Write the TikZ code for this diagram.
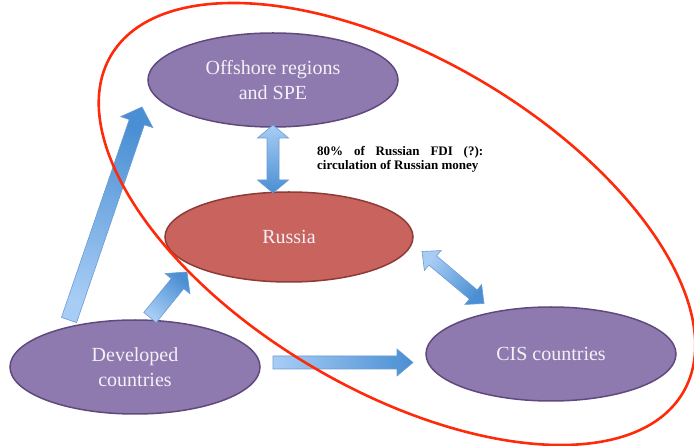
\documentclass[tikz,border=0pt]{standalone}
\usepackage{fontspec}
\setmainfont{Liberation Serif}
\usetikzlibrary{calc,shapes.geometric}
\definecolor{purp}{HTML}{8E7AAE}
\definecolor{purpdk}{HTML}{5F4A7D}
\definecolor{rusfill}{HTML}{C9635D}
\definecolor{rusdk}{HTML}{8E3B37}
\definecolor{arrlight}{HTML}{A8CDF5}
\definecolor{arrdark}{HTML}{4A8FD3}
\definecolor{arredge}{HTML}{6A9BD2}
\definecolor{ringred}{HTML}{FF2A0A}
\definecolor{nodetext}{HTML}{F4F0F8}
\tikzset{
 region/.style={ellipse, draw=purpdk, line width=1.5pt, fill=purp, minimum width=250pt, minimum height=94pt, text=nodetext, align=center, font=\fontsize{20}{25}\selectfont, inner sep=0pt},
 hub/.style={region, fill=rusfill, draw=rusdk, minimum width=248pt, minimum height=90pt},
 blockarrow/.style={draw=arredge, line width=0.6pt, top color=arrdark, bottom color=arrlight},
 ring/.style={draw=ringred, line width=2.6pt},
 note/.style={anchor=base west, inner sep=0pt, font=\fontsize{13}{14}\selectfont\bfseries}
}
\newcommand\singlearrow[6]{%
 \coordinate (tmpH) at ($(#2)!#5!(#1)$);
 \draw[blockarrow, shading angle=#6] ($(#1)!#3!90:(#2)$) -- ($(tmpH)!#3!-90:(#1)$) -- ($(tmpH)!#4!-90:(#1)$) -- (#2) -- ($(tmpH)!#4!90:(#1)$) -- ($(tmpH)!#3!90:(#1)$) -- ($(#1)!#3!-90:(#2)$) -- cycle;
}
\newcommand\doublearrow[6]{%
 \coordinate (tmpP) at ($(#1)!#5!(#2)$);
 \coordinate (tmpQ) at ($(#2)!#5!(#1)$);
 \draw[blockarrow, shading angle=#6] (#1) -- ($(tmpP)!#4!90:(#2)$) -- ($(tmpP)!#3!90:(#2)$) -- ($(tmpQ)!#3!-90:(#1)$) -- ($(tmpQ)!#4!-90:(#1)$) -- (#2) -- ($(tmpQ)!#4!90:(#1)$) -- ($(tmpQ)!#3!90:(#1)$) -- ($(tmpP)!#3!-90:(#2)$) -- ($(tmpP)!#4!-90:(#2)$) -- cycle;
}
\begin{document}
\begin{tikzpicture}[x=1pt, y=-1pt]
\useasboundingbox (0,0) rectangle (694,446);
\node[region] (off) at (273,80) {Offshore regions\\and SPE};
\node[hub] (rus) at (289,237) {Russia};
\node[region] (dev) at (135,367) {Developed\\countries};
\node[region] (cis) at (551,354) {CIS countries};
\node[note] (fdi) at (317,156) {\parbox[t]{166pt}{\baselineskip=14pt\makebox[166pt][s]{80\% of Russian FDI (?):}\\circulation of Russian money}};
% connector end points
\coordinate (devA) at (69,320);
\coordinate (offA) at (142,107);
\coordinate (devB) at (150,317.5);
\coordinate (rusB) at (187,272);
\coordinate (devC) at (273,362.5);
\coordinate (cisC) at (413,362.5);
\coordinate (offD) at (273,125);
\coordinate (rusD) at (273,193);
\coordinate (rusE) at (422,251.5);
\coordinate (cisE) at (484,303.5);
\singlearrow{devA}{offA}{8pt}{17pt}{16pt}{-19.6}
\singlearrow{devB}{rusB}{8pt}{16pt}{15pt}{-39.6}
\singlearrow{devC}{cisC}{6.5pt}{13.5pt}{16pt}{-90}
\doublearrow{offD}{rusD}{6pt}{15.5pt}{13pt}{-180}
\doublearrow{rusE}{cisE}{6pt}{13pt}{14pt}{-128}
\draw[ring, rotate around={-30.5:(397,224)}] (397,224) ellipse [x radius=332, y radius=166];
\end{tikzpicture}
\end{document}
